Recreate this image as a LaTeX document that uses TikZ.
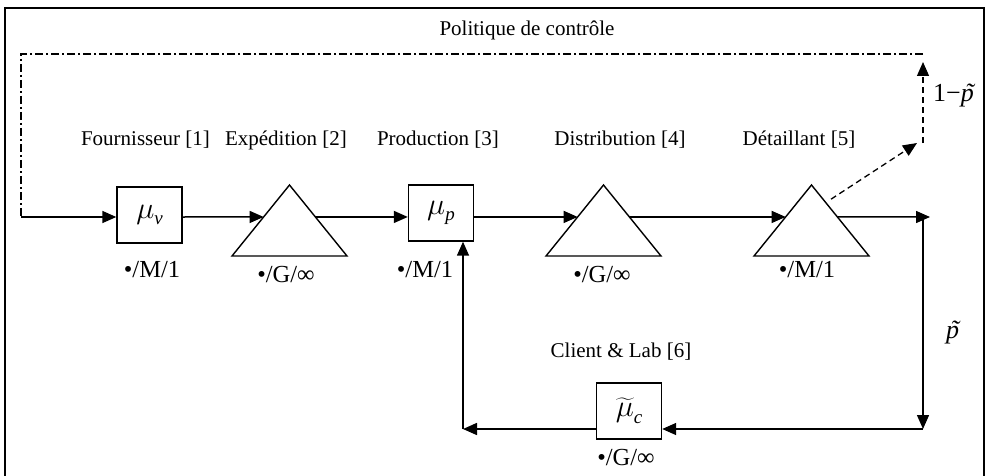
\RequirePackage{fix-cm}
\documentclass[tikz,border=0pt]{standalone}
\usepackage{fontspec}
\usepackage{graphicx}
\setmainfont{Liberation Serif}
\usetikzlibrary{arrows.meta,calc}

% italic letter with a tilde set over it
\newcommand{\tildeover}[2][0.15em]{\ooalign{#2\cr\hidewidth\kern#1\char"02DC\hidewidth\cr}}
% service-rate symbol (enlarged) with a lowered subscript
\newcommand{\rate}[2]{\scalebox{1.8}{$#1$}\raisebox{-0.4em}{\fontsize{19}{19}\selectfont\itshape #2}}

\begin{document}
\begin{tikzpicture}[x=1pt,y=-1pt,
  every node/.style={inner sep=0pt},
  lbl/.style={font=\fontsize{21}{25}\selectfont},
  kend/.style={font=\fontsize{24.5}{27}\selectfont},
  prob/.style={font=\fontsize{26}{28}\selectfont},
  qbox/.style={draw, line width=1.4pt, minimum width=65pt, minimum height=56pt,
               font=\fontsize{17}{20}\selectfont},
  triline/.style={line width=1.4pt, line join=miter},
  arr/.style={-{Triangle[length=14pt,width=12pt]}},
  flow/.style={line width=1.5pt, arr},
  feedback/.style={line width=1.3pt, dash pattern=on 8pt off 3pt on 2pt off 3pt},
  leak/.style={line width=1.3pt, dash pattern=on 6pt off 4pt, arr}
]
\useasboundingbox (0,0) rectangle (987,476);

% outer frame
\draw[line width=1.2pt] (5,476) -- (5,8) -- (984,8) -- (984,476);

% single-server stations
\node[qbox] (s1) at (149.5,215) {\rate{\mu}{v}};
\node[qbox] (s3) at (441,213) {\rate{\mu}{p}};
\node[qbox] (s6) at (629,411) {\rate{\widetilde{\mu}}{c}};

% infinite-server stations drawn as triangles
\foreach \n/\cx in {2/289.5, 4/603.5, 5/811.5}{
  \coordinate (t\n a) at (\cx,185);
  \coordinate (t\n l) at (\cx-57.5,256);
  \coordinate (t\n r) at (\cx+57.5,256);
  \draw[triline] (t\n a) -- (t\n l) -- (t\n r) -- cycle;
  \coordinate (t\n in) at ($(t\n a)!0.45!(t\n l)$);
  \coordinate (t\n out) at ($(t\n a)!0.45!(t\n r)$);
}

% stage names
\node[lbl] (title) at (527,30) {Politique de contrôle};
\node[lbl] (n1) at (145.5,140) {Fournisseur [1]};
\node[lbl] (n2) at (286,140) {Expédition [2]};
\node[lbl] (n3) at (438,140) {Production [3]};
\node[lbl] (n4) at (620,140) {Distribution [4]};
\node[lbl] (n5) at (799,140) {Détaillant [5]};
\node[lbl] (n6) at (621,352) {Client \& Lab [6]};

% queue types
\node[kend] (k1) at (152,270) {•/M/1};
\node[kend] (k2) at (286,275) {•/G/∞};
\node[kend] (k3) at (425,270) {•/M/1};
\node[kend] (k4) at (602,275) {•/G/∞};
\node[kend] (k5) at (807,270) {•/M/1};
\node[kend] (k6) at (626,458) {•/G/∞};

% routing probabilities
\node[prob, anchor=base west] (pq) at (933,102) {1−\textit{\tildeover{p}}};
\node[prob, anchor=base west] (pp) at (946,338) {\textit{\tildeover{p}}};

% helper points of the connectors
\coordinate (src) at (21,217);
\coordinate (ctl) at (21,54);
\coordinate (ctr) at (923,54);
\coordinate (exitR) at (930,217);
\coordinate (turnR) at (923,217);
\coordinate (turnB) at (923,429);
\coordinate (turnL) at (463,429);
\coordinate (leakS) at ($(t5a)!0.2!(t5r)+(8,0)$);
\coordinate (leakE) at (917,143);
\coordinate (upS) at (923,143);
\coordinate (upE) at (923,62);

% control feedback (dash-dot)
\draw[feedback] (ctr) -- (ctl) -- (src);

% main flow
\draw[flow] (src) -- (s1.west |- src);
\draw[flow] (s1.east |- src) -- (t2in);
\draw[flow] (t2out) -- (s3.west |- t2out);
\draw[flow] (s3.east |- t2out) -- (t4in);
\draw[flow] (t4out) -- (t5in);
\draw[flow] (t5out) -- (exitR);
\draw[flow] (turnR) -- (turnB);
\draw[flow] (turnB) -- (s6.east |- turnB);
\draw[flow] (s6.west |- turnB) -- (turnL);
\draw[flow] (turnL) -- (turnL |- s3.south);

% leaving customers (dashed)
\draw[leak] (leakS) -- (leakE);
\draw[leak] (upS) -- (upE);
\end{tikzpicture}
\end{document}
